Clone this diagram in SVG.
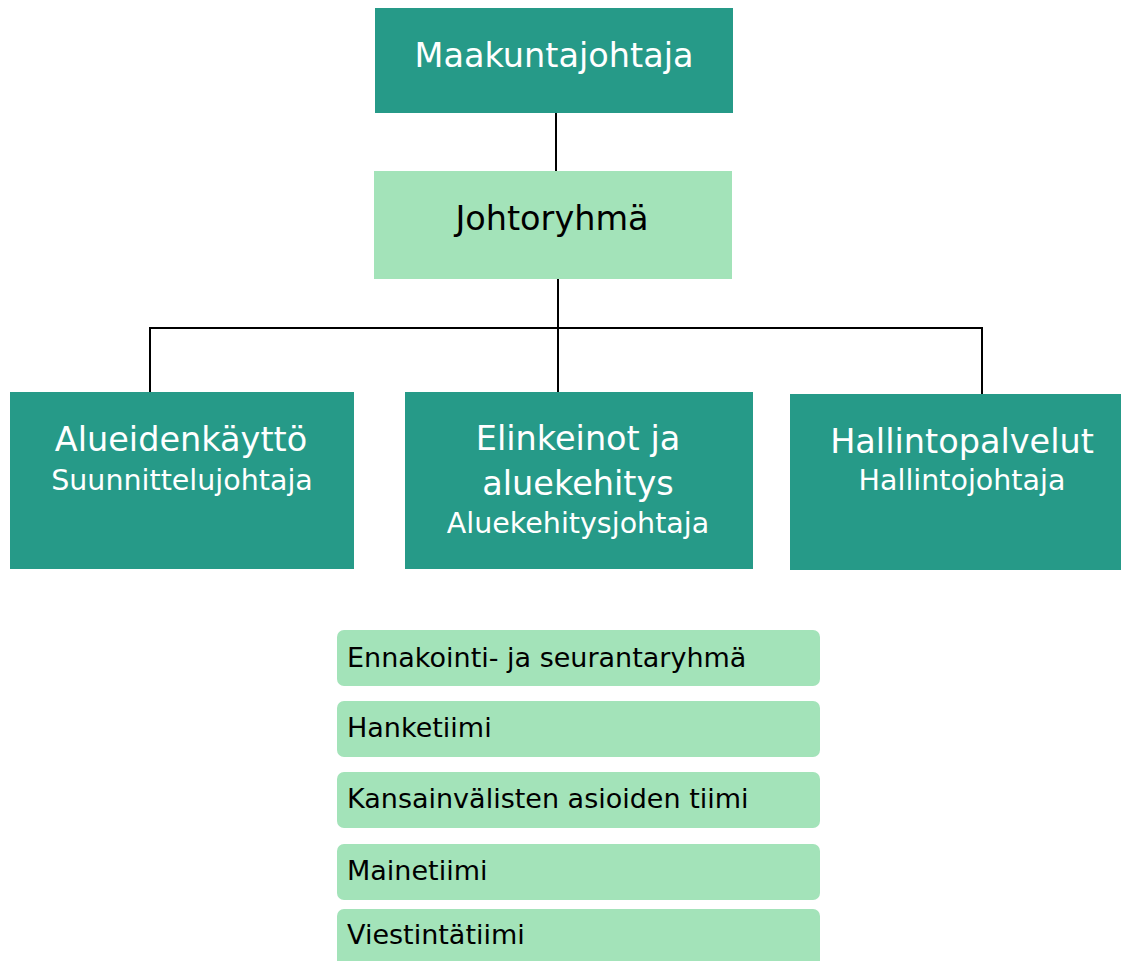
<svg xmlns="http://www.w3.org/2000/svg" width="1121" height="961" viewBox="0 0 1121 961">
<style>
.dark{fill:#269a88}
.light{fill:#a3e3b9}
.t{font-family:"DejaVu Sans",Verdana,sans-serif}
.w{fill:#ffffff}
.b{fill:#000000}
.big{font-size:33.5px}
.sub{font-size:28.5px}
.pill{font-size:27px}
.c{text-anchor:middle}
.conn{stroke:#000;stroke-width:2;fill:none}
</style>
<rect width="1121" height="961" fill="#ffffff"/>
<g id="connectors">
<line class="conn" x1="556" y1="113" x2="556" y2="171"/>
<line class="conn" x1="558" y1="279" x2="558" y2="392"/>
<polyline class="conn" points="150,392 150,328 982,328 982,394"/>
</g>
<g id="maakuntajohtaja">
<rect class="dark" x="375" y="8" width="358" height="105"/>
<text class="t w big c" x="554" y="67">Maakuntajohtaja</text>
</g>
<g id="johtoryhma">
<rect class="light" x="374" y="171" width="358" height="108"/>
<text class="t b big c" x="552" y="230">Johtoryhmä</text>
</g>
<g id="alueidenkaytto">
<rect class="dark" x="10" y="392" width="344" height="177"/>
<text class="t w big c" x="181" y="451">Alueidenkäyttö</text>
<text class="t w sub c" x="182" y="490">Suunnittelujohtaja</text>
</g>
<g id="elinkeinot">
<rect class="dark" x="405" y="392" width="348" height="177"/>
<text class="t w big c" x="578" y="450">Elinkeinot ja</text>
<text class="t w big c" x="578" y="495">aluekehitys</text>
<text class="t w sub c" x="578" y="533">Aluekehitysjohtaja</text>
</g>
<g id="hallintopalvelut">
<rect class="dark" x="790" y="394" width="344" height="176"/>
<text class="t w big c" x="962" y="453">Hallintopalvelut</text>
<text class="t w sub c" x="962" y="490">Hallintojohtaja</text>
</g>
<g id="ennakointi">
<rect class="light" x="337" y="630" width="483" height="56" rx="7"/>
<text class="t b pill" x="347" y="667">Ennakointi- ja seurantaryhmä</text>
</g>
<g id="hanketiimi">
<rect class="light" x="337" y="701" width="483" height="56" rx="7"/>
<text class="t b pill" x="347" y="737">Hanketiimi</text>
</g>
<g id="kansainvalisten">
<rect class="light" x="337" y="772" width="483" height="56" rx="7"/>
<text class="t b pill" x="347" y="808">Kansainvälisten asioiden tiimi</text>
</g>
<g id="mainetiimi">
<rect class="light" x="337" y="844" width="483" height="56" rx="7"/>
<text class="t b pill" x="347" y="880">Mainetiimi</text>
</g>
<g id="viestintatiimi">
<rect class="light" x="337" y="909" width="483" height="60" rx="7"/>
<text class="t b pill" x="347" y="944">Viestintätiimi</text>
</g>
</svg>
